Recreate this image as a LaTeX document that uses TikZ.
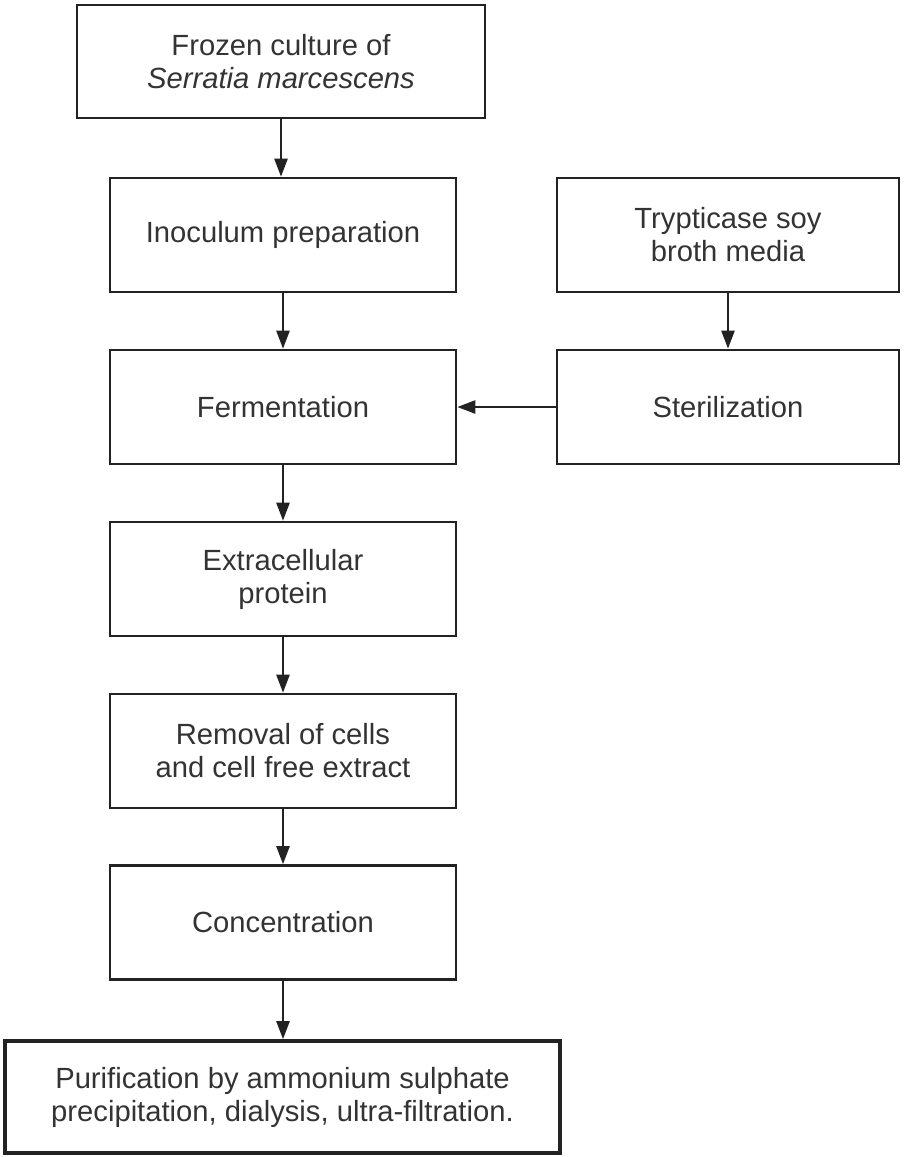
\documentclass[tikz,border=0pt]{standalone}
\usepackage{fontspec}
\setmainfont{Liberation Sans}
\usetikzlibrary{positioning}
\usetikzlibrary{arrows.meta}
\definecolor{inkline}{HTML}{222222}
\definecolor{inktext}{HTML}{333333}

\begin{document}
\begin{tikzpicture}
          [
          x=0.5pt, y=-0.5pt,
          Box/.style={rectangle, draw=inkline, fill=white, line width=1.3pt, text=inktext, align=center, font=\fontsize{14.6}{16.5}\selectfont, minimum width=173pt, minimum height=57pt, inner sep=0pt},
          Wide/.style={Box, minimum width=204pt, minimum height=56.5pt},
          Side/.style={Box, minimum width=171pt},
          Last/.style={Box, line width=1.8pt, minimum width=277.5pt, minimum height=56pt},
          Arrow/.style={-{Triangle[width=6.5pt, length=9pt]}, draw=inkline, line width=1.2pt},
          ]
          \useasboundingbox (0,0) rectangle (904,1157);
          % Nodes
          \node[Wide] (Frozen) at (281, 61.5) {Frozen culture of\\\textit{Serratia marcescens}};
          \node[Box] (Inoc) at (283, 235) {Inoculum preparation};
          \node[Side] (Broth) at (728, 235) {Trypticase soy\\broth media};
          \node[Box] (Ferm) at (283, 407) {Fermentation};
          \node[Side] (Steril) at (728, 407) {Sterilization};
          \node[Box] (Protein) at (283, 579) {Extracellular\\protein};
          \node[Box] (Removal) at (283, 751) {Removal of cells\\and cell free extract};
          \node[Box] (Conc) at (283, 922.5) {Concentration};
          \node[Last] (Purif) at (282.5, 1097) {Purification by ammonium sulphate\\precipitation, dialysis, ultra-filtration.};

          % Lines
          \path [Arrow] (Frozen.south) -- (Frozen.south |- Inoc.north);
          \path [Arrow] (Inoc) -- (Ferm);
          \path [Arrow] (Broth) -- (Steril);
          \path [Arrow] (Steril) -- (Ferm);
          \path [Arrow] (Ferm) -- (Protein);
          \path [Arrow] (Protein) -- (Removal);
          \path [Arrow] (Removal) -- (Conc);
          \path [Arrow] (Conc.south) -- (Conc.south |- Purif.north);

        \end{tikzpicture}
\end{document}
